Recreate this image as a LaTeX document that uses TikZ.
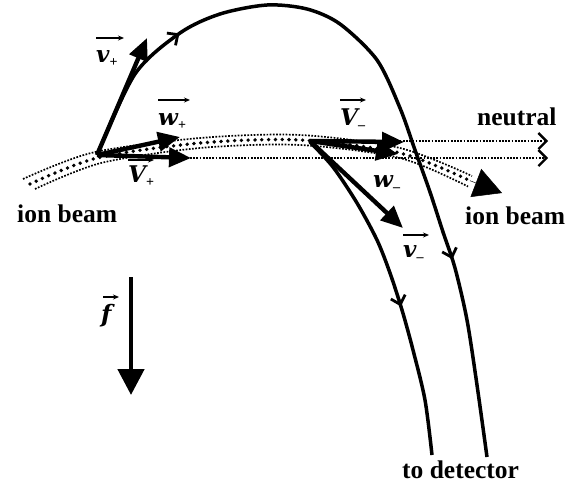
\documentclass[tikz,border=0pt]{standalone}
\usepackage{fontspec}
\setmainfont{Liberation Serif}
\newfontfamily\vecfont{DejaVu Serif}
\usetikzlibrary{arrows.meta,decorations.markings}
\newcommand{\vlab}[2]{{\vecfont\fontsize{23}{26}\selectfont\bfseries\itshape #1}{\fontsize{14}{14}\selectfont\bfseries\raisebox{-4pt}{#2}}}
\begin{document}
\begin{tikzpicture}[x=1pt,y=-1pt,
  traj/.style={line width=3.5pt},
  vec/.style={line width=4.4pt,-{Triangle[length=22pt,width=19pt]}},
  fine/.style={line width=1.7pt,dash pattern=on 1.7pt off 1.5pt},
  bigdots/.style={line width=3.8pt,line cap=round,dash pattern=on 0pt off 6.8pt},
  lab/.style={inner sep=0pt,anchor=base west,font=\fontsize{25.5}{30}\selectfont\bfseries},
  overarr/.style={line width=1.3pt,-{Stealth[length=6pt,width=5pt]}},
  mybarb/.tip={Straight Barb[length=8pt,width=15pt,line width=2.8pt]},
  nbarb/.tip={Straight Barb[length=8pt,width=16pt,line width=2.3pt]},
  mid/.style={postaction={decorate,decoration={markings,mark=at position #1 with {\arrow{mybarb}}}}}
]
\useasboundingbox (0,0) rectangle (579,485);
% points
\coordinate (o1) at (97,155);
\coordinate (o2) at (310,141);
\coordinate (vp) at (147,38);
\coordinate (wp) at (180,137);
\coordinate (Vp) at (191,158);
\coordinate (Vm) at (404,142);
\coordinate (wm) at (398,154);
\coordinate (vm) at (403,228);
\coordinate (ftop) at (131,277);
\coordinate (fbot) at (131,395);
\coordinate (n1s) at (310,141);
\coordinate (n1e) at (548,141);
\coordinate (n2s) at (190,158);
\coordinate (n2e) at (548,158);
\coordinate (bm) at (470,180.7);
\coordinate (bt) at (502,193);
% ion beam band
\draw[fine] plot[smooth] coordinates {(23,179) (93,152.5) (200,138) (300,135) (400,148) (472,176)};
\draw[fine] plot[smooth] coordinates {(35,189) (101,163) (200,148) (300,145) (400,158) (468,186.5)};
\draw[bigdots] plot[smooth] coordinates {(30,184) (97,158) (200,143) (300,140) (400,153) (470,180.7)};
\draw[-{Triangle[length=28pt,width=30pt]},line width=0.5pt] (bm) -- (bt);
% neutral beam
\draw[fine,-nbarb] (n1s) -- (n1e);
\draw[fine,-nbarb] (n2s) -- (n2e);
% trajectories
\draw[traj,mid=150pt,mid=585pt] plot[smooth] coordinates {(97,155) (135,74) (180,33) (220,14) (267,5) (307,9) (340,24) (377,60) (400,108) (415,150) (430,192) (443,232) (455,268) (467,320) (477,385) (487,457)};
\draw[traj,mid=190pt] plot[smooth] coordinates {(310,142) (333,167) (357,203) (377,240) (390,273) (402,310) (413,350) (425,400) (432,455)};
% vectors
\draw[vec] (o1) -- (vp);
\draw[vec] (o1) -- (wp);
\draw[vec] (o1) -- (Vp);
\draw[vec] (o2) -- (Vm);
\draw[vec] (o2) -- (wm);
\draw[vec] (o2) -- (vm);
\draw[line width=4.8pt,-{Triangle[length=26pt,width=26pt]}] (ftop) -- (fbot);
% labels
\node[lab] (lvp) at (96,62) {\vlab{v}{+}};
\node[lab] (lwp) at (158,125) {\vlab{w}{+}};
\node[lab] (lVp) at (128,182) {\vlab{V}{+}};
\node[lab] (lVm) at (340,125) {\vlab{V}{–}};
\node[lab] (lwm) at (373,187) {\vlab{w}{–}};
\node[lab] (lvm) at (403,257) {\vlab{v}{–}};
\node[lab] (lf) at (101,322) {\vecfont\fontsize{24}{26}\selectfont\bfseries\itshape f};
\draw[overarr] ([yshift=24pt]lvp.base west) -- ++(28,0);
\draw[overarr] ([yshift=25pt]lwp.base west) -- ++(32,0);
\draw[overarr] ([yshift=22pt]lVp.base west) -- ++(26,0);
\draw[overarr] ([yshift=25pt]lVm.base west) -- ++(26,0);
\draw[overarr] ([yshift=22pt]lvm.base west) -- ++(26,0);
\draw[overarr] ([yshift=25pt,xshift=2pt]lf.base west) -- ++(16,0);
\node[lab] (ib1) at (17,222) {ion beam};
\node[lab] (ib2) at (465,224) {ion beam};
\node[lab] (neu) at (477,125) {neutral};
\node[lab] (det) at (402,478) {to detector};
\end{tikzpicture}
\end{document}
